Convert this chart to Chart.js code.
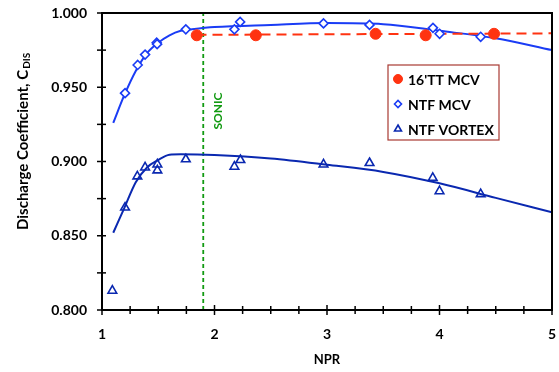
<!DOCTYPE html>
<html>
<head>
<meta charset="utf-8">
<script src="https://cdn.jsdelivr.net/npm/chart.js@4/dist/chart.umd.min.js"></script>
<style>
    html, body { margin: 0; padding: 0; background: #fff; }
    #wrap { width: 559px; height: 372px; position: relative; }
</style>
</head>
<body>
<div id="wrap"><canvas id="cdisChart"></canvas></div>
<script>
// measured points
const tt16Npr = [1.842, 2.367, 3.432, 3.877, 4.485];
const tt16Cdis = [0.985, 0.985, 0.986, 0.985, 0.986];
const tt16FitNpr = [1.84, 5.0];
const tt16FitCdis = [0.9853, 0.9863];

const ntfMcvNpr = [1.205, 1.317, 1.383, 1.486, 1.49, 1.745, 2.177, 2.228, 2.969, 3.378, 3.942, 4.001, 4.366];
const ntfMcvCdis = [0.946, 0.965, 0.972, 0.980, 0.979, 0.989, 0.989, 0.994, 0.993, 0.992, 0.990, 0.986, 0.984];

const vortexNpr = [1.092, 1.205, 1.314, 1.383, 1.492, 1.492, 1.745, 2.177, 2.23, 2.969, 3.378, 3.94, 4.0, 4.366];
const vortexCdis = [0.813, 0.869, 0.890, 0.896, 0.898, 0.894, 0.9015, 0.8965, 0.901, 0.898, 0.899, 0.889, 0.880, 0.878];

// curve fits
const mcvFitNpr = [1.1, 1.2, 1.3, 1.4, 1.5, 1.6, 1.7, 1.8, 2.0, 2.5, 3.0, 3.5, 4.0, 4.5, 5.0];
const mcvFitCdis = [0.926, 0.945, 0.961, 0.973, 0.980, 0.985, 0.988, 0.989, 0.9905, 0.992, 0.9932, 0.9925, 0.988, 0.983, 0.975];
const vortexFitNpr = [1.1, 1.2, 1.3, 1.4, 1.5, 1.6, 1.7, 2.0, 2.5, 3.0, 3.5, 4.0, 4.5, 5.0];
const vortexFitCdis = [0.852, 0.869, 0.886, 0.896, 0.901, 0.9045, 0.9048, 0.9043, 0.902, 0.8978, 0.893, 0.8853, 0.8755, 0.8658];

const sonicNpr = [1.9, 1.9];
const sonicCdis = [0.8, 1.0];

const legendLabels = ["16'TT MCV", "NTF MCV", "NTF VORTEX"];
const legendRadius = [4.5, 3.5, 4];

const FONT = "Lato";
const RED = "#ff3311";
const BLUE = "#1a3cf5";
const DARKBLUE = "#0a28b0";
const GREEN = "#129a12";

function pts(xs, ys) {
    return xs.map((x, i) => ({x: x, y: ys[i]}));
}

// tick marks crossing the axes, box, y title, sonic label, legend
const decorPlugin = {
    id: "decor",
    afterDraw(chart) {
        const ctx = chart.ctx;
        const area = chart.chartArea;
        const xs = chart.scales.x;
        const ys = chart.scales.y;
        ctx.save();

        ctx.strokeStyle = "#000";
        ctx.lineWidth = 2;
        ctx.strokeRect(area.left, area.top, area.right - area.left, area.bottom - area.top);

        ctx.lineWidth = 1.5;
        xs.ticks.forEach(t => {
            const px = xs.getPixelForValue(t.value);
            const major = Math.abs(t.value - Math.round(t.value)) < 1e-6;
            const len = major ? 5 : 4;
            ctx.beginPath();
            ctx.moveTo(px, area.bottom - len);
            ctx.lineTo(px, area.bottom + len);
            ctx.stroke();
        });
        ys.ticks.forEach(t => {
            const py = ys.getPixelForValue(t.value);
            ctx.beginPath();
            ctx.moveTo(area.left - 5, py);
            ctx.lineTo(area.left + 4, py);
            ctx.stroke();
        });

        // y axis title with subscript
        ctx.translate(23, 230);
        ctx.rotate(-Math.PI / 2);
        ctx.fillStyle = "#000";
        ctx.textBaseline = "middle";
        ctx.textAlign = "left";
        ctx.font = "bold 15px " + FONT;
        const main = "Discharge Coefficient, C";
        ctx.fillText(main, 0, 0);
        const w = ctx.measureText(main).width;
        ctx.font = "bold 10px " + FONT;
        ctx.fillText("DIS", w + 1, 4);
        ctx.setTransform(1, 0, 0, 1, 0, 0);

        // SONIC label
        ctx.translate(xs.getPixelForValue(1.9) + 15, 111);
        ctx.rotate(-Math.PI / 2);
        ctx.fillStyle = GREEN;
        ctx.textAlign = "center";
        ctx.textBaseline = "middle";
        ctx.font = "bold 12px " + FONT;
        ctx.fillText("SONIC", 0, 0);
        ctx.setTransform(1, 0, 0, 1, 0, 0);

        // legend box
        ctx.fillStyle = "#fff";
        ctx.fillRect(388, 65, 111, 75);
        ctx.strokeStyle = "#a83a32";
        ctx.lineWidth = 1.2;
        ctx.strokeRect(388, 65, 111, 75);
        const legendSets = [0, 2, 4];
        legendSets.forEach((di, i) => {
            const ds = chart.data.datasets[di];
            const y = 79 + i * 25;
            ctx.fillStyle = ds.pointBackgroundColor;
            ctx.strokeStyle = ds.pointBorderColor;
            ctx.lineWidth = ds.pointBorderWidth;
            Chart.helpers.drawPoint(ctx, {
                pointStyle: ds.pointStyle,
                radius: legendRadius[i],
                borderWidth: ds.pointBorderWidth
            }, 398, y);
            ctx.fillStyle = "#000";
            ctx.font = "bold 14px " + FONT;
            ctx.textAlign = "left";
            ctx.textBaseline = "middle";
            ctx.fillText(legendLabels[i], 408, y + 1);
        });
        ctx.restore();
    }
};

const ctx = document.getElementById("cdisChart").getContext("2d");
new Chart(ctx, {
    type: "scatter",
    data: {
        datasets: [
            {
                label: legendLabels[0],
                data: pts(tt16Npr, tt16Cdis),
                pointStyle: "circle",
                pointRadius: 5.5,
                pointBackgroundColor: RED,
                pointBorderColor: RED,
                pointBorderWidth: 1,
                showLine: false,
                order: 1
            },
            {
                data: pts(tt16FitNpr, tt16FitCdis),
                showLine: true,
                borderColor: RED,
                borderWidth: 2,
                borderDash: [10, 6],
                pointRadius: 0,
                order: 5
            },
            {
                label: legendLabels[1],
                data: pts(ntfMcvNpr, ntfMcvCdis),
                pointStyle: "rectRot",
                pointRadius: 4.5,
                pointBackgroundColor: "#fff",
                pointBorderColor: BLUE,
                pointBorderWidth: 1.6,
                showLine: false,
                order: 2
            },
            {
                data: pts(mcvFitNpr, mcvFitCdis),
                showLine: true,
                borderColor: BLUE,
                borderWidth: 2,
                cubicInterpolationMode: "monotone",
                pointRadius: 0,
                order: 6
            },
            {
                label: legendLabels[2],
                data: pts(vortexNpr, vortexCdis),
                pointStyle: "triangle",
                pointRadius: 5,
                pointBackgroundColor: "rgba(255,255,255,0)",
                pointBorderColor: DARKBLUE,
                pointBorderWidth: 1.6,
                showLine: false,
                order: 3
            },
            {
                data: pts(vortexFitNpr, vortexFitCdis),
                showLine: true,
                borderColor: DARKBLUE,
                borderWidth: 2,
                cubicInterpolationMode: "monotone",
                pointRadius: 0,
                order: 7
            },
            {
                data: pts(sonicNpr, sonicCdis),
                showLine: true,
                borderColor: GREEN,
                borderWidth: 1.8,
                borderDash: [4, 3],
                pointRadius: 0,
                order: 8
            }
        ]
    },
    options: {
        responsive: true,
        maintainAspectRatio: false,
        animation: false,
        events: [],
        layout: { padding: { left: 0, right: 7, top: 13, bottom: 0 } },
        plugins: {
            legend: { display: false },
            tooltip: { enabled: false }
        },
        scales: {
            x: {
                type: "linear",
                min: 1,
                max: 5,
                grid: { display: false, drawTicks: false },
                border: { display: false },
                ticks: {
                    stepSize: 0.25,
                    autoSkip: false,
                    maxRotation: 0,
                    padding: 16,
                    color: "#000",
                    font: { family: FONT, weight: "bold", size: 14 },
                    callback: v => Math.abs(v - Math.round(v)) < 1e-6 ? String(Math.round(v)) : ""
                },
                title: {
                    display: true,
                    text: "NPR",
                    color: "#000",
                    font: { family: FONT, weight: "bold", size: 13 },
                    padding: { top: 6, bottom: 4 }
                },
                afterFit: s => {
                    s.height = 62;
                    s.paddingLeft = 0;
                    s.paddingRight = 0;
                }
            },
            y: {
                type: "linear",
                min: 0.8,
                max: 1.0,
                grid: { display: false, drawTicks: false },
                border: { display: false },
                ticks: {
                    stepSize: 0.025,
                    autoSkip: false,
                    padding: 15,
                    color: "#000",
                    font: { family: FONT, weight: "bold", size: 14 },
                    callback: v => Math.abs(v * 20 - Math.round(v * 20)) < 1e-6 ? v.toFixed(3) : ""
                },
                afterFit: s => {
                    s.width = 102;
                    s.paddingTop = 0;
                    s.paddingBottom = 0;
                }
            }
        }
    },
    plugins: [decorPlugin]
});
</script>
</body>
</html>
